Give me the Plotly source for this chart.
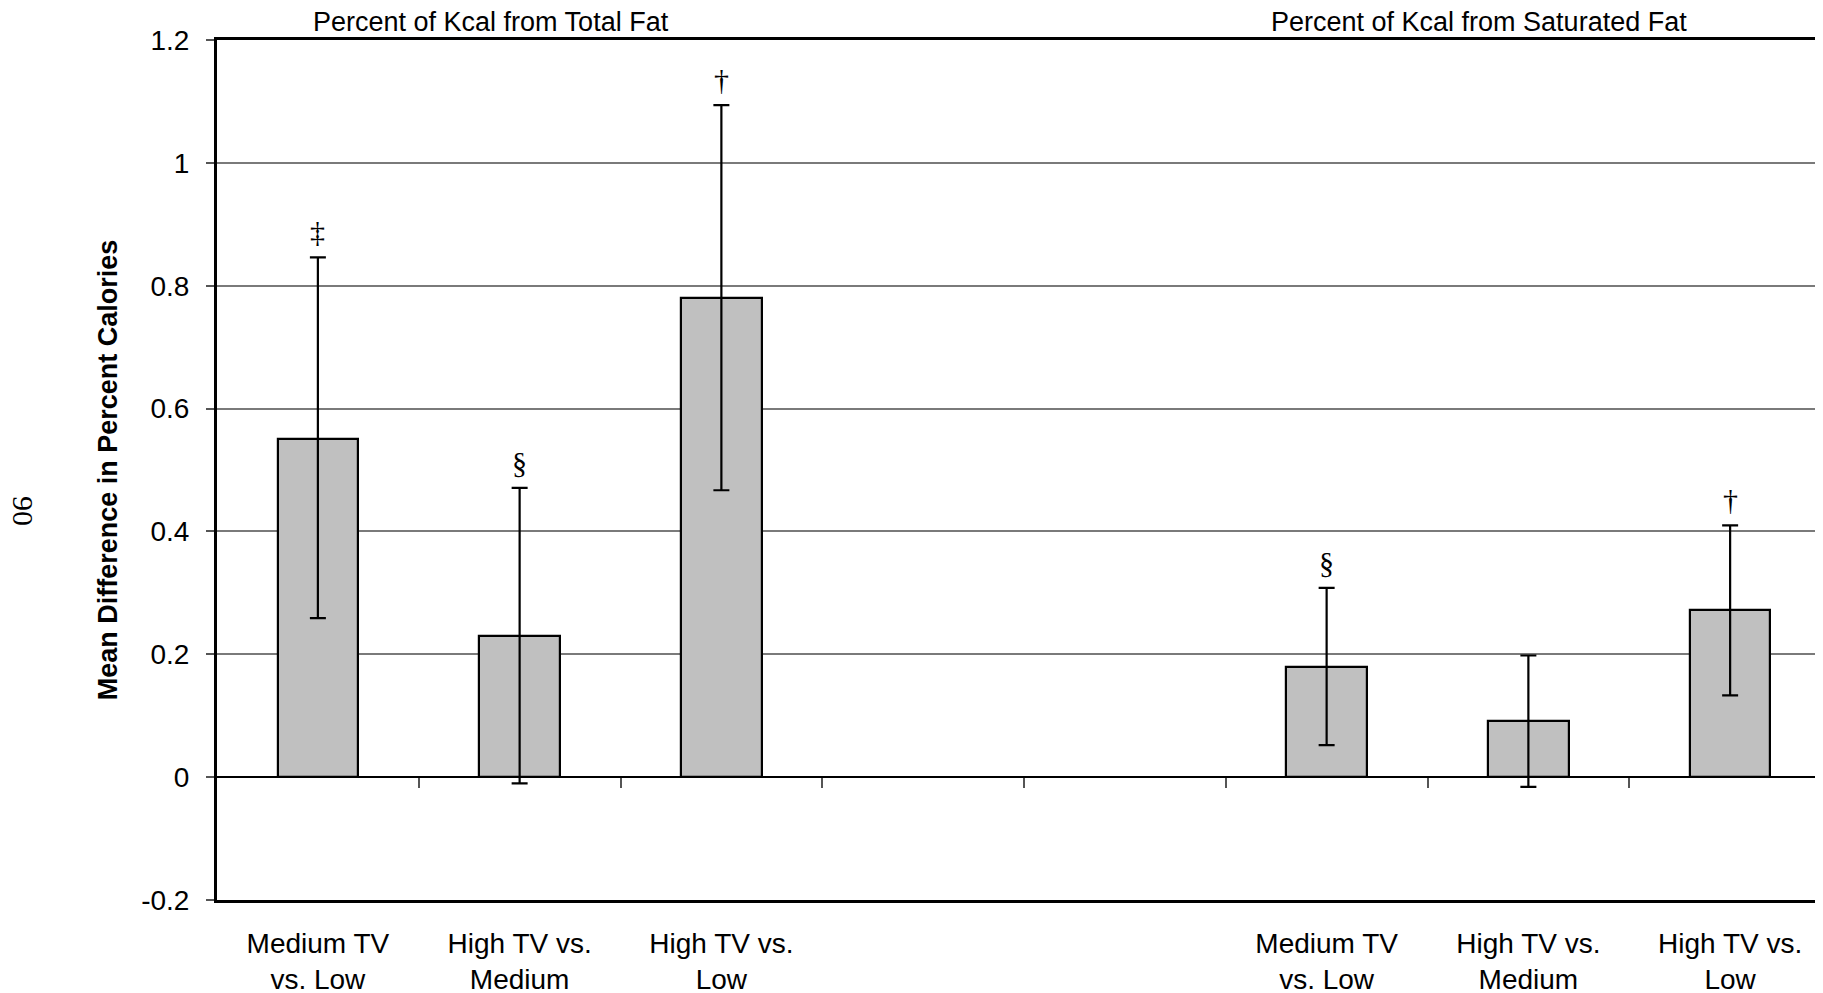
import plotly.graph_objects as go

# ---- data ----
categories = ["Medium TV<br>vs. Low", "High TV vs.<br>Medium", "High TV vs.<br>Low"]
panel_titles = ["Percent of Kcal from Total Fat", "Percent of Kcal from Saturated Fat"]

total_fat_mean = [0.55, 0.23, 0.78]
total_fat_lower = [0.259, -0.010, 0.467]
total_fat_upper = [0.846, 0.471, 1.094]
total_fat_marks = ["‡", "§", "†"]

sat_fat_mean = [0.18, 0.092, 0.272]
sat_fat_lower = [0.052, -0.016, 0.133]
sat_fat_upper = [0.308, 0.198, 0.410]
sat_fat_marks = ["§", "", "†"]

y_tickvals = [-0.2, 0, 0.2, 0.4, 0.6, 0.8, 1.0, 1.2]
y_ticktext = ["-0.2", "0", "0.2", "0.4", "0.6", "0.8", "1", "1.2"]
page_number = "90"

# ---- layout helpers ----
W, H = 1823, 993
OFF = 8  # default page body margin shifts the figure
L, R, T, B = 217 - OFF, 0, 40 - OFF, 93 + OFF
FONT = "Liberation Sans, Arial, sans-serif"
SERIF = "Liberation Serif, Times New Roman, serif"
n_slots = 8
group_slots = [[0, 1, 2], [5, 6, 7]]
y_range = [-0.2, 1.2]
PW = W - L - R

fig = go.Figure()

groups = [
    (total_fat_mean, total_fat_lower, total_fat_upper, total_fat_marks),
    (sat_fat_mean, sat_fat_lower, sat_fat_upper, sat_fat_marks),
]

for slots, (mean, lo, hi, marks) in zip(group_slots, groups):
    fig.add_trace(go.Bar(
        x=slots, y=mean, width=0.4,
        marker=dict(color="#c0c0c0", line=dict(color="black", width=2.2)),
        error_y=dict(type="data", symmetric=False,
                     array=[h - m for h, m in zip(hi, mean)],
                     arrayminus=[m - l for m, l in zip(mean, lo)],
                     color="black", thickness=2.2, width=8),
        showlegend=False, hoverinfo="skip",
    ))
    for s, h, mk in zip(slots, hi, marks):
        if mk:
            fig.add_annotation(x=s, y=h, xref="x", yref="y", text=mk, showarrow=False,
                               yanchor="bottom", yshift=7,
                               font=dict(family=SERIF, size=30, color="black"))

# invisible trace for the tick axis at y = 0
fig.add_trace(go.Scatter(x=[-0.5], y=[0], xaxis="x2", mode="markers",
                         marker=dict(opacity=0), showlegend=False, hoverinfo="skip"))

all_slots = group_slots[0] + group_slots[1]
fig.update_layout(
    width=W, height=H,
    margin=dict(l=L, r=R, t=T, b=B, pad=0),
    paper_bgcolor="white", plot_bgcolor="white",
    font=dict(family=FONT, size=27, color="black"),
    bargap=0,
    xaxis=dict(range=[-0.5, n_slots - 0.5], tickvals=all_slots, ticktext=categories * 2,
               showline=True, linecolor="black", linewidth=3, mirror=True,
               ticks="", showgrid=False, zeroline=False, automargin=False,
               tickfont=dict(family=FONT, size=28, color="black"),
               ticklabelstandoff=16),
    xaxis2=dict(range=[-0.5, n_slots - 0.5], overlaying="x", anchor="free",
                position=(0 - y_range[0]) / (y_range[1] - y_range[0]), side="bottom",
                tickvals=[i + 0.5 for i in range(n_slots - 1)], ticks="outside",
                ticklen=10, tickwidth=1.5, tickcolor="#555555", automargin=False,
                showticklabels=False, showline=False, showgrid=False, zeroline=False),
    yaxis=dict(range=y_range, tickvals=y_tickvals, ticktext=y_ticktext,
               showline=True, linecolor="black", linewidth=3, mirror=False,
               ticks="outside", ticklen=8, tickwidth=1.5, tickcolor="#555555",
               showgrid=True, gridcolor="#7a7a7a", gridwidth=1.5,
               zeroline=True, zerolinecolor="black", zerolinewidth=2,
               automargin=False,
               tickfont=dict(family=FONT, size=28, color="black"),
               ticklabelstandoff=11,
               title=dict(text="<b>Mean Difference in Percent Calories</b>",
                          font=dict(family=FONT, size=27, color="black"), standoff=16)),
)

title_x = [(491 - OFF - L) / PW, (1479 - OFF - L) / PW]
for tx, tt in zip(title_x, panel_titles):
    fig.add_annotation(x=tx, y=1, xref="paper", yref="paper", text=tt, showarrow=False,
                       xanchor="center", yanchor="bottom", yshift=2, borderpad=0,
                       font=dict(family=FONT, size=27, color="black"))

fig.add_annotation(x=(24 - OFF - L) / PW, y=0.5, xref="paper", yref="paper",
                   text=page_number, textangle=90, showarrow=False, borderpad=0,
                   xanchor="center", yanchor="middle", yshift=-41,
                   font=dict(family=SERIF, size=30, color="black"))

fig.write_html("out.html")
